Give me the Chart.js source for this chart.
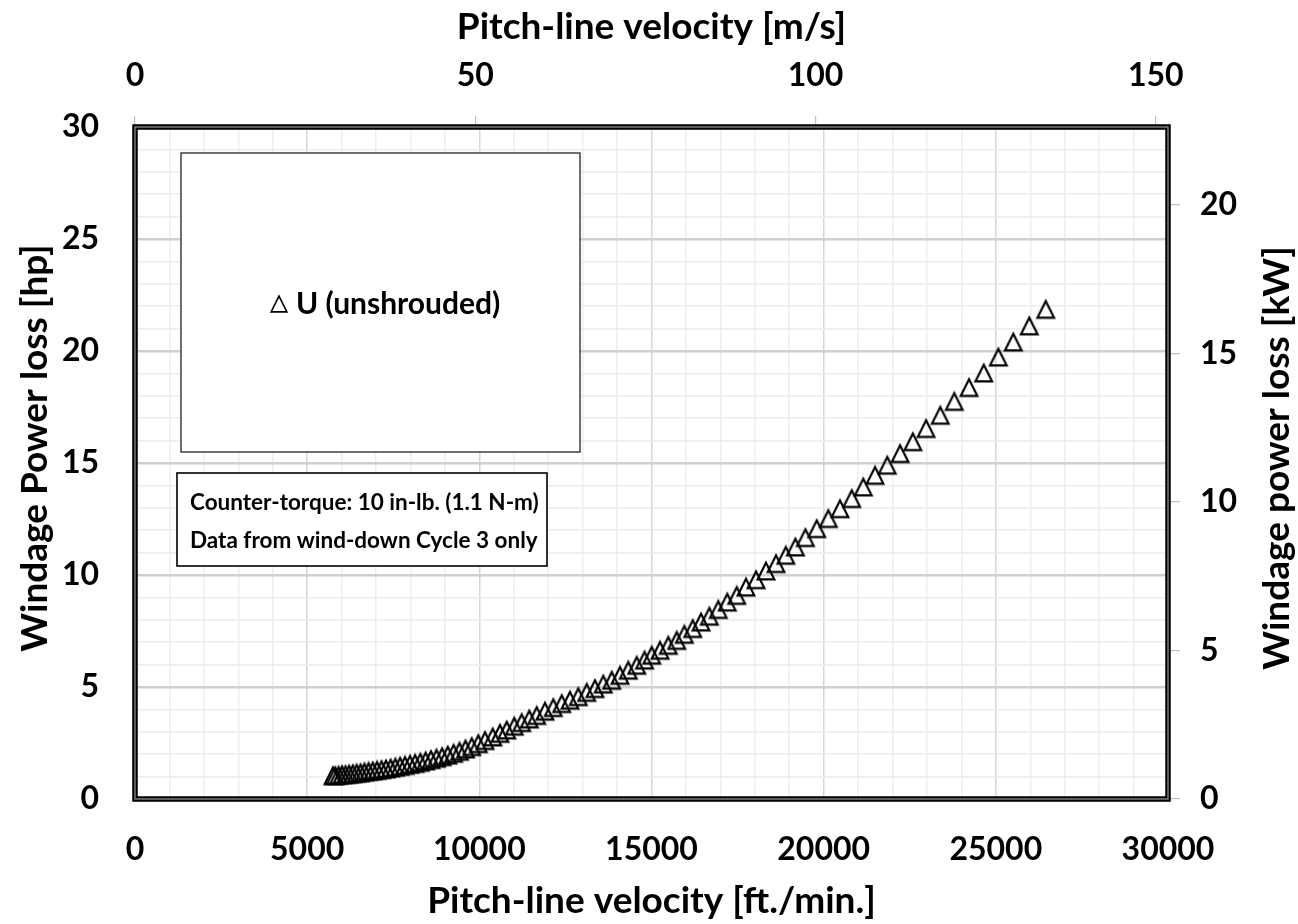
<!DOCTYPE html>
<html>
<head>
<meta charset="utf-8">
<title>Windage power loss vs pitch-line velocity</title>
<script src="https://cdn.jsdelivr.net/npm/chart.js@4.4.1/dist/chart.umd.min.js"></script>
<style>
  html, body { margin: 0; padding: 0; background: #fff; }
</style>
</head>
<body>
<canvas id="windageChart" width="1298" height="924"></canvas>
<script>
// wind-down cycle 3, unshrouded gear
const velocityFtMin = [
  5750, 5817, 5913, 6012, 6113, 6218, 6325, 6436, 6549, 6665,
  6784, 6906, 7031, 7159, 7289, 7423, 7560, 7699, 7841, 7986,
  8135, 8286, 8440, 8596, 8756, 8919, 9084, 9253, 9424, 9598,
  9778, 9970, 10165, 10388, 10600, 10795, 11015, 11230, 11451, 11666,
  11907, 12148, 12392, 12633, 12874, 13118, 13359, 13600, 13844, 14085,
  14326, 14570, 14797, 15006, 15247, 15488, 15732, 15953, 16197, 16438,
  16679, 16940, 17201, 17474, 17744, 18035, 18325, 18616, 18900, 19180,
  19470, 19798, 20135, 20474, 20814, 21151, 21491, 21848, 22220, 22590,
  22975, 23387, 23794, 24221, 24648, 25072, 25507, 25972, 26448,
];
const powerLossHp = [
  1.04, 1.04, 1.06, 1.08, 1.09, 1.11, 1.13, 1.15, 1.17, 1.20,
  1.23, 1.25, 1.28, 1.31, 1.34, 1.38, 1.42, 1.46, 1.50, 1.55,
  1.59, 1.64, 1.70, 1.76, 1.82, 1.89, 1.96, 2.04, 2.13, 2.23,
  2.34, 2.47, 2.61, 2.77, 2.93, 3.08, 3.25, 3.41, 3.57, 3.73,
  3.92, 4.08, 4.26, 4.41, 4.57, 4.76, 4.93, 5.13, 5.30, 5.52,
  5.75, 5.97, 6.20, 6.42, 6.64, 6.86, 7.08, 7.35, 7.61, 7.90,
  8.16, 8.46, 8.79, 9.09, 9.46, 9.79, 10.18, 10.51, 10.88, 11.25,
  11.67, 12.07, 12.52, 12.96, 13.41, 13.93, 14.45, 14.90, 15.42, 15.95,
  16.54, 17.13, 17.75, 18.37, 19.02, 19.73, 20.40, 21.12, 21.86,
];

// secondary axes (m/s on top, kW on the right)
const topTicksMs = [0, 50, 100, 150];
const rightTicksKw = [0, 5, 10, 15, 20];

const seriesLabel = 'U (unshrouded)';
const noteLines = ['Counter-torque: 10 in-lb. (1.1 N-m)', 'Data from wind-down Cycle 3 only'];

const FONT = 'Lato';
const tickFont = { family: FONT, size: 32, weight: 'bold' };
const titleFont = { family: FONT, size: 37, weight: 'bold' };

// open triangle marker, same look as the spreadsheet one
function makeTriangle(size, lw) {
  const c = document.createElement('canvas');
  c.width = size;
  c.height = size;
  const g = c.getContext('2d');
  const m = lw + 0.5;
  g.lineWidth = lw;
  g.strokeStyle = '#000';
  g.lineJoin = 'miter';
  g.beginPath();
  g.moveTo(size / 2, m);
  g.lineTo(size - m, size - m);
  g.lineTo(m, size - m);
  g.closePath();
  g.stroke();
  return c;
}
const triMarker = makeTriangle(22, 2.2);
const triLegend = makeTriangle(20, 1.6);

const points = velocityFtMin.map((v, i) => ({ x: v, y: powerLossHp[i] }));

const fixedTicks = (values) => (scale) => {
  scale.ticks = values.map((v) => ({ value: v }));
};

// frame, legend box, note box and side titles
const decorPlugin = {
  id: 'decor',
  afterDraw(chart) {
    const { ctx, chartArea: a } = chart;
    ctx.save();

    // double plot-area border
    ctx.strokeStyle = '#000';
    ctx.lineWidth = 5.5;
    ctx.strokeRect(a.left, a.top, a.right - a.left, a.bottom - a.top);
    ctx.strokeStyle = '#9a9a9a';
    ctx.lineWidth = 1.2;
    ctx.strokeRect(a.left, a.top, a.right - a.left, a.bottom - a.top);

    // legend box
    ctx.fillStyle = '#fff';
    ctx.fillRect(181, 153, 399, 299);
    ctx.strokeStyle = '#222';
    ctx.lineWidth = 1.3;
    ctx.strokeRect(181, 153, 399, 299);
    ctx.drawImage(triLegend, 269, 294);
    ctx.fillStyle = '#000';
    ctx.font = 'bold 30px ' + FONT;
    ctx.textBaseline = 'middle';
    ctx.textAlign = 'left';
    ctx.fillText(seriesLabel, 296, 304);

    // note box
    ctx.fillStyle = '#fff';
    ctx.fillRect(177, 473, 370, 93);
    ctx.strokeStyle = '#000';
    ctx.lineWidth = 1.6;
    ctx.strokeRect(177, 473, 370, 93);
    ctx.fillStyle = '#000';
    ctx.font = 'bold 22.5px ' + FONT;
    ctx.fillText(noteLines[0], 190, 503);
    ctx.fillText(noteLines[1], 190, 541);

    // side titles, both reading bottom to top
    ctx.font = 'bold 37px ' + FONT;
    ctx.textAlign = 'center';
    ctx.translate(35, 448);
    ctx.rotate(-Math.PI / 2);
    ctx.fillText('Windage Power loss [hp]', 0, 0);
    ctx.setTransform(1, 0, 0, 1, 0, 0);
    ctx.translate(1277, 458);
    ctx.rotate(-Math.PI / 2);
    ctx.fillText('Windage power loss [kW]', 0, 0);

    ctx.restore();
  },
};

new Chart(document.getElementById('windageChart'), {
  type: 'scatter',
  data: {
    datasets: [
      {
        label: seriesLabel,
        data: points,
        pointStyle: triMarker,
        pointRadius: 11,
        showLine: false,
        xAxisID: 'x',
        yAxisID: 'y',
      },
    ],
  },
  options: {
    responsive: false,
    animation: false,
    layout: { padding: 0 },
    plugins: {
      legend: { display: false },
      tooltip: { enabled: false },
    },
    scales: {
      x: {
        type: 'linear',
        position: 'bottom',
        min: 0,
        max: 30000,
        ticks: {
          stepSize: 1000,
          autoSkip: false,
          includeBounds: false,
          maxRotation: 0,
          padding: 31,
          color: '#000',
          font: tickFont,
          callback: (v) => (v % 5000 === 0 ? String(v) : ''),
        },
        grid: {
          drawTicks: false,
          color: (c) => (c.tick && c.tick.value % 5000 === 0 ? '#d6d6d6' : '#eeeeee'),
          lineWidth: 1.5,
        },
        border: { display: false },
        title: {
          display: true,
          text: 'Pitch-line velocity [ft./min.]',
          color: '#000',
          font: titleFont,
          padding: { top: 0, bottom: 1 },
        },
        afterFit(s) { s.height = 125; },
      },
      xTop: {
        type: 'linear',
        position: 'top',
        min: 0,
        max: 151.8,
        afterBuildTicks: fixedTicks(topTicksMs),
        ticks: {
          maxRotation: 0,
          padding: 21,
          color: '#000',
          font: tickFont,
          callback: (v) => String(v),
        },
        grid: {
          drawOnChartArea: false,
          tickLength: 11,
          color: '#bfbfbf',
          lineWidth: 1.2,
        },
        border: { display: false },
        title: {
          display: true,
          text: 'Pitch-line velocity [m/s]',
          color: '#000',
          font: titleFont,
          padding: { top: 5, bottom: 0 },
        },
        afterFit(s) { s.height = 127; },
      },
      y: {
        type: 'linear',
        position: 'left',
        min: 0,
        max: 30,
        ticks: {
          stepSize: 1,
          autoSkip: false,
          includeBounds: false,
          padding: 36,
          color: '#000',
          font: tickFont,
          callback: (v) => (v % 5 === 0 ? String(v) : ''),
        },
        grid: {
          drawTicks: false,
          color: (c) => (c.tick && c.tick.value % 5 === 0 ? '#d0d0d0' : '#ececec'),
          lineWidth: (c) => (c.tick && c.tick.value % 5 === 0 ? 2.4 : 1.5),
        },
        border: { display: false },
        afterFit(s) { s.width = 135; },
      },
      yRight: {
        type: 'linear',
        position: 'right',
        min: 0,
        max: 22.63,
        afterBuildTicks: fixedTicks(rightTicksKw),
        ticks: {
          padding: 20,
          color: '#000',
          font: tickFont,
          callback: (v) => String(v),
        },
        grid: {
          drawOnChartArea: false,
          tickLength: 12,
          color: '#bfbfbf',
          lineWidth: 1.2,
        },
        border: { display: false },
        afterFit(s) { s.width = 130; },
      },
    },
  },
  plugins: [decorPlugin],
});
</script>
</body>
</html>
